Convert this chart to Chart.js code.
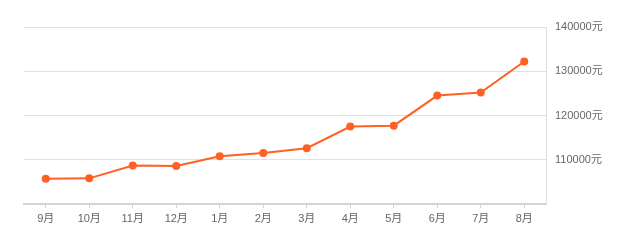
<!DOCTYPE html>
<html>
<head>
<meta charset="utf-8">
<script src="https://cdn.jsdelivr.net/npm/chart.js@4"></script>
<style>
  html, body { margin: 0; padding: 0; background: #fff; }
  #wrap { width: 622px; height: 240px; }
</style>
</head>
<body>
<div id="wrap"><canvas id="priceChart"></canvas></div>
<script>
// months and average price (yuan)
const months = ['9月', '10月', '11月', '12月', '1月', '2月', '3月', '4月', '5月', '6月', '7月', '8月'];
const prices = [105700, 105800, 108700, 108600, 110800, 111500, 112600, 117500, 117700, 124500, 125200, 132200];
const yTicks = [100000, 110000, 120000, 130000, 140000];

const lineColor = '#ff6124';
const fontFamily = "'Liberation Sans', Arial, 'Noto Sans CJK SC', sans-serif";

const ctx = document.getElementById('priceChart').getContext('2d');
new Chart(ctx, {
    type: 'line',
    data: {
        labels: months,
        datasets: [{
            data: prices,
            borderColor: lineColor,
            backgroundColor: lineColor,
            borderWidth: 2,
            pointRadius: 4,
            pointBorderWidth: 0,
            pointBackgroundColor: lineColor,
            tension: 0,
            fill: false
        }]
    },
    options: {
        responsive: true,
        maintainAspectRatio: false,
        animation: false,
        devicePixelRatio: 1,
        layout: { padding: { left: 24, top: 27, right: 0, bottom: 0 } },
        plugins: {
            legend: { display: false },
            tooltip: { enabled: false }
        },
        scales: {
            x: {
                offset: true,
                grid: {
                    offset: false,
                    drawOnChartArea: false,
                    drawTicks: true,
                    tickLength: 4,
                    color: '#d4d4d4'
                },
                border: { color: '#d4d4d4', width: 2 },
                ticks: {
                    color: '#666',
                    padding: 4,
                    maxRotation: 0,
                    autoSkip: false,
                    font: { family: fontFamily, size: 11 }
                },
                afterFit: function(scale) { scale.height = 36; }
            },
            y: {
                position: 'right',
                min: 100000,
                max: 140000,
                afterBuildTicks: function(scale) {
                    scale.ticks = yTicks.map(v => ({ value: v }));
                },
                grid: {
                    drawTicks: false,
                    color: function(c) { return c.tick && c.tick.value === 100000 ? 'rgba(0,0,0,0)' : '#e0e0e0'; }
                },
                border: { color: '#e0e0e0', width: 1 },
                ticks: {
                    color: '#666',
                    padding: 9,
                    crossAlign: 'near',
                    font: { family: fontFamily, size: 11 },
                    callback: function(v) { return v === 100000 ? '' : v + '元'; }
                },
                afterFit: function(scale) { scale.width = 76; }
            }
        }
    }
});
</script>
</body>
</html>
